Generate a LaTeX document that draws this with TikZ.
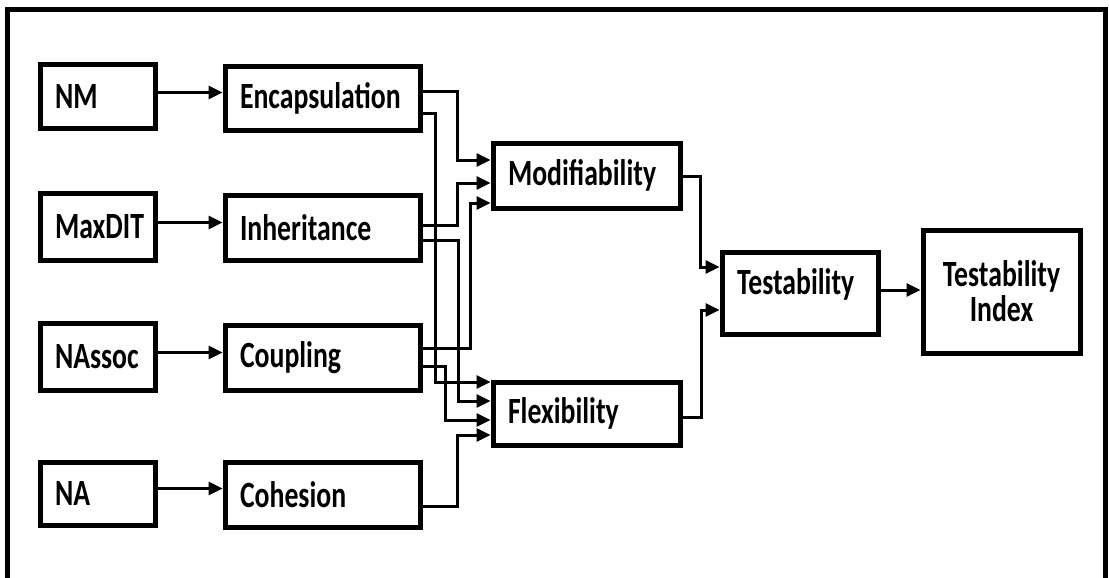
\documentclass[tikz,border=0pt]{standalone}
\usepackage{fontspec}
\newfontfamily\boxfont[FakeStretch=0.75]{Carlito}
\usetikzlibrary{arrows.meta}
\hyphenpenalty=10000
\begin{document}
\begin{tikzpicture}[x=1pt,y=-1pt,
  box/.style={draw, line width=5pt, inner xsep=15pt, inner ysep=0pt,
    font=\boxfont\bfseries\fontsize{37}{35}\selectfont, align=left},
  conn/.style={line width=3pt, -{Triangle[length=14pt,width=13pt]}},
  frame/.style={line width=5pt}]
\useasboundingbox (0,0) rectangle (1109,578);
\fill[white] (0,0) rectangle (1109,578);
\draw[frame] (7.5,578) -- (7.5,9.5) -- (1105,9.5) -- (1105,578);

% left column
\node[box, text width=85pt, minimum height=63pt] (nm) at (97.5,96.5) {NM};
\node[box, text width=85pt, minimum height=67pt] (maxdit) at (97.5,226.5) {MaxDIT};
\node[box, text width=85pt, minimum height=67pt] (nassoc) at (97.5,356.5) {NAssoc};
\node[box, text width=85pt, minimum height=63pt] (na) at (97.5,493.5) {NA};
% second column
\node[box, text width=165pt, minimum height=63pt] (enc) at (322.5,98.5) {Encapsulation};
\node[box, text width=165pt, minimum height=65pt] (inh) at (322.5,227.5) {Inheritance};
\node[box, text width=165pt, minimum height=65pt] (cpl) at (322.5,357.5) {Coupling};
\node[box, text width=165pt, minimum height=65pt] (coh) at (322.5,494.5) {Cohesion};
% third column
\node[box, text width=157pt, minimum height=65pt] (mod) at (586.5,175.5) {Modifiability};
\node[box, text width=157pt, minimum height=63pt] (flex) at (586.5,413.5) {Flexibility};
% testability
\node[box, text width=126pt, minimum height=82pt, text depth=23pt] (test) at (800,293) {Testability};
\node[box, text width=127pt, minimum height=123pt, align=center] (ti) at (1001.5,291.5) {Testability\\Index};

% inputs
\draw[conn] ([yshift=4pt]nm.east) -- ([yshift=4pt]nm.east -| enc.west);
\draw[conn] ([yshift=4pt]maxdit.east) -- ([yshift=4pt]maxdit.east -| inh.west);
\draw[conn] ([yshift=4pt]nassoc.east) -- ([yshift=4pt]nassoc.east -| cpl.west);
\draw[conn] ([yshift=5pt]na.east) -- ([yshift=5pt]na.east -| coh.west);

% to modifiability
\draw[conn] (enc.east |- 0,92) -| (457,160) -- (mod.west |- 0,160);
\draw[conn] (inh.east |- 0,225) -| (457,183) -- (mod.west |- 0,183);
\draw[conn] (cpl.east |- 0,348) -| (470,203) -- (mod.west |- 0,203);
% to flexibility
\draw[conn] (enc.east |- 0,113) -| (435,382) -- (flex.west |- 0,382);
\draw[conn] (inh.east |- 0,240) -| (458,401) -- (flex.west |- 0,401);
\draw[conn] (cpl.east |- 0,366) -| (445,420) -- (flex.west |- 0,420);
\draw[conn] (coh.east |- 0,506) -| (457,435) -- (flex.west |- 0,435);
% to testability
\draw[conn] (mod.east |- 0,176) -| (700,267) -- (test.west |- 0,267);
\draw[conn] (flex.east |- 0,417) -| (701,310) -- (test.west |- 0,310);
\draw[conn] (test.east |- 0,290) -- (ti.west |- 0,290);
\end{tikzpicture}
\end{document}
